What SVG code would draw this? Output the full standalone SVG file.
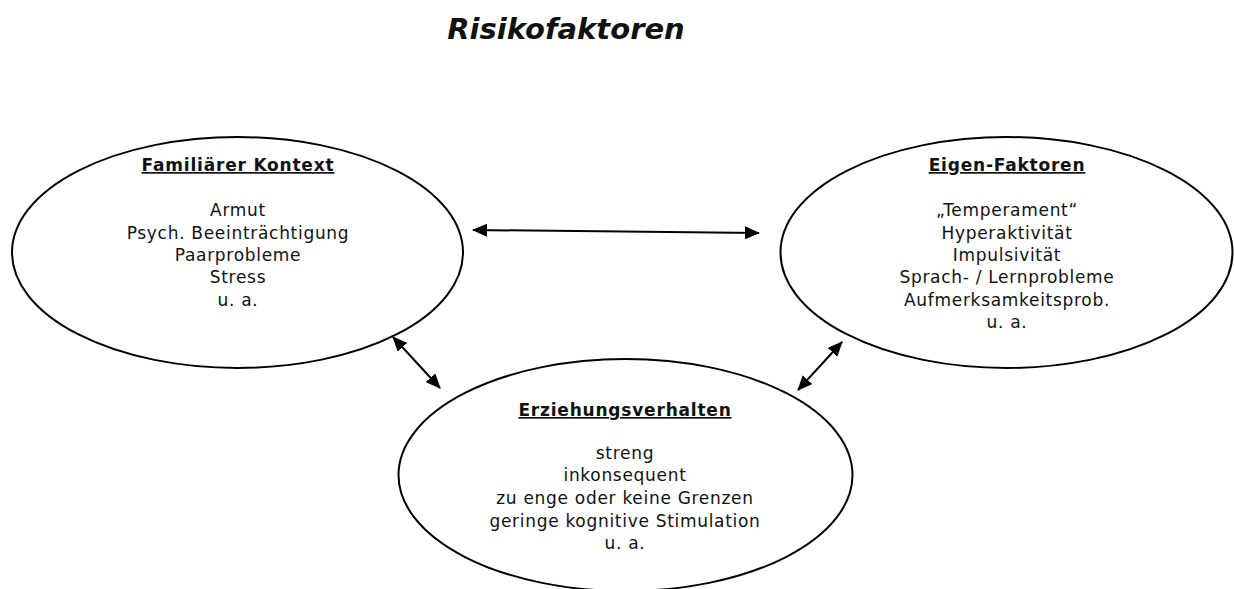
<svg xmlns="http://www.w3.org/2000/svg" width="1234" height="589" viewBox="0 0 1234 589">
<style>
.node ellipse{fill:#fff;stroke:#000;stroke-width:2}
text{font-family:"DejaVu Sans","Liberation Sans",sans-serif;font-size:17px;letter-spacing:0.7px;fill:#111;text-anchor:middle}
.h{font-weight:bold;text-decoration:underline;letter-spacing:0.8px}
.title{font-size:29px;letter-spacing:0;font-weight:bold;font-style:italic}
.conn line{stroke:#000;stroke-width:2;marker-start:url(#ah);marker-end:url(#ah)}
</style>
<defs>
<marker id="ah" viewBox="0 0 15 13" refX="14" refY="6.5" markerWidth="15" markerHeight="13" markerUnits="userSpaceOnUse" orient="auto-start-reverse">
<path d="M0,0 L15,6.5 L0,13 z" fill="#000"/>
</marker>
</defs>
<text class="title" x="566" y="39">Risikofaktoren</text>
<g id="familiaer" class="node">
<ellipse cx="237.5" cy="252.5" rx="225.5" ry="115.5"/>
<text class="h" x="238" y="171">Familiärer Kontext</text>
<text x="238" y="216">Armut</text>
<text x="238" y="239">Psych. Beeinträchtigung</text>
<text x="238" y="261">Paarprobleme</text>
<text x="238" y="283">Stress</text>
<text x="238" y="306">u. a.</text>
</g>
<g id="eigen" class="node">
<ellipse cx="1006.5" cy="252.5" rx="226" ry="115.5"/>
<text class="h" x="1007" y="171">Eigen-Faktoren</text>
<text x="1007" y="216">„Temperament“</text>
<text x="1007" y="239">Hyperaktivität</text>
<text x="1007" y="261">Impulsivität</text>
<text x="1007" y="283">Sprach- / Lernprobleme</text>
<text x="1007" y="306">Aufmerksamkeitsprob.</text>
<text x="1007" y="328">u. a.</text>
</g>
<g id="erziehung" class="node">
<ellipse cx="625.5" cy="475" rx="227" ry="116"/>
<text class="h" x="625" y="416">Erziehungsverhalten</text>
<text x="625" y="459">streng</text>
<text x="625" y="481">inkonsequent</text>
<text x="625" y="504">zu enge oder keine Grenzen</text>
<text x="625" y="527">geringe kognitive Stimulation</text>
<text x="625" y="549">u. a.</text>
</g>
<g id="connectors" class="conn">
<line x1="473" y1="230" x2="759" y2="233"/>
<line x1="393" y1="337" x2="440" y2="388"/>
<line x1="842" y1="342" x2="798" y2="390"/>
</g>
</svg>
